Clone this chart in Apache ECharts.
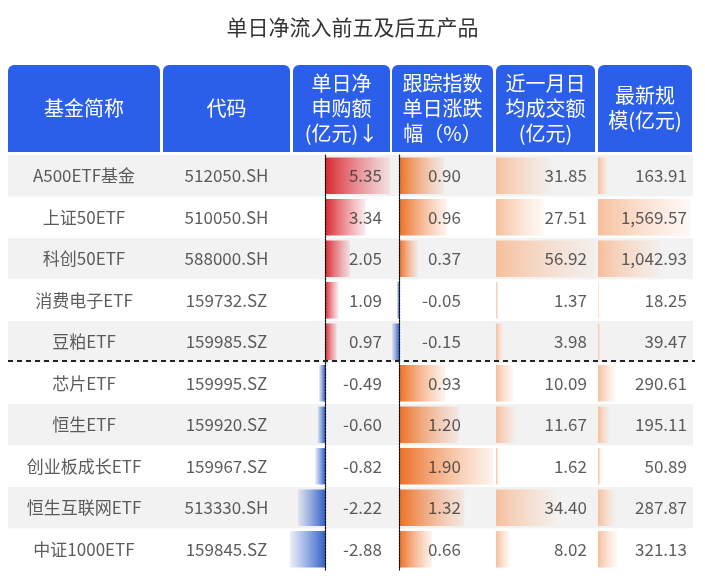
<!DOCTYPE html>
<html>
<head>
<meta charset="utf-8">
<script src="https://cdn.jsdelivr.net/npm/echarts@6/dist/echarts.min.js"></script>
<style>html,body{margin:0;padding:0;background:#fff}#main{width:705px;height:579px}</style>
</head>
<body>
<div id="main"></div>
<script>
const names = ['A500ETF基金', '上证50ETF', '科创50ETF', '消费电子ETF', '豆粕ETF', '芯片ETF', '恒生ETF', '创业板成长ETF', '恒生互联网ETF', '中证1000ETF']
const codes = ['512050.SH', '510050.SH', '588000.SH', '159732.SZ', '159985.SZ', '159995.SZ', '159920.SZ', '159967.SZ', '513330.SH', '159845.SZ']
const netFlow = [5.35, 3.34, 2.05, 1.09, 0.97, -0.49, -0.60, -0.82, -2.22, -2.88]
const idxChange = [0.90, 0.96, 0.37, -0.05, -0.15, 0.93, 1.20, 1.90, 1.32, 0.66]
const avgVolume = [31.85, 27.51, 56.92, 1.37, 3.98, 10.09, 11.67, 1.62, 34.40, 8.02]
const fundSize = [163.91, 1569.57, 1042.93, 18.25, 39.47, 290.61, 195.11, 50.89, 287.87, 321.13]
const headers = ['基金简称', '代码', '单日净\n申购额\n(亿元)↓', '跟踪指数\n单日涨跌\n幅（%）', '近一月日\n均成交额\n(亿元)', '最新规\n模(亿元)']

const chart = echarts.init(document.getElementById('main'))
const font = 'Noto Sans CJK SC'
const rows = names.map((_, i) => i)
const fmt = (v) => v.toLocaleString('en-US', { minimumFractionDigits: 2, maximumFractionDigits: 2 })

const grad = (c1, c2) => new echarts.graphic.LinearGradient(0, 0, 1, 0, [{ offset: 0, color: c1 }, { offset: 1, color: c2 }])
const redG = grad('#d9262e', 'rgba(230,90,100,0.12)')
const blueG = grad('rgba(80,120,210,0.12)', '#3461c8')
const orangeG = grad('#ec7026', 'rgba(245,160,110,0.12)')
const peachG = grad('#f6bf9c', 'rgba(250,215,195,0.15)')

// column boxes [left, right]
const cols = [[8, 160], [163, 290], [290, 390], [392, 493], [496, 595], [598, 692]]
const W = 705, TOP = 155, H = 415

const grids = cols.map(c => ({ left: c[0], width: c[1] - c[0], top: TOP, height: H }))
grids.push({ left: 8, width: 685, top: TOP, height: H })

const ranges = [[0, 1], [0, 1], [-2.88, 5.35], [-0.15, 1.90], [0, 57.5], [0, 1590], [0, 1]]
const xAxis = ranges.map((r, i) => ({ type: 'value', gridIndex: i, min: r[0], max: r[1], show: false }))
const yAxis = ranges.map((r, i) => ({
  type: 'category', gridIndex: i, data: rows, inverse: true,
  axisLabel: { show: false }, axisTick: { show: false },
  axisLine: { show: i === 2 || i === 3, onZero: true, lineStyle: { color: '#111', type: [2, 1], width: 1.2 } },
  splitArea: { show: i === 6, areaStyle: { color: ['#f2f2f2', '#ffffff'] } },
  z: i === 6 ? 0 : 5
}))

const textSeries = (gi, vals, x, pos, dist) => ({
  type: 'scatter', xAxisIndex: gi, yAxisIndex: gi, symbolSize: 0.1, z: 10,
  data: vals.map((v, i) => ({ value: [x, i], name: String(v) })),
  label: { show: true, position: pos, distance: dist, color: '#333', fontSize: 17, fontFamily: font, formatter: p => p.name },
  silent: true
})
const barSeries = (gi, vals, colorFn) => ({
  type: 'bar', xAxisIndex: gi, yAxisIndex: gi, barWidth: '88%', z: 3,
  data: vals.map(v => ({ value: v, itemStyle: { color: colorFn(v) } }))
})

const series = [
  { type: 'bar', xAxisIndex: 6, yAxisIndex: 6, data: [] },
  barSeries(2, netFlow, v => v >= 0 ? redG : blueG),
  barSeries(3, idxChange, v => v >= 0 ? orangeG : blueG),
  barSeries(4, avgVolume, () => peachG),
  barSeries(5, fundSize, () => peachG),
  textSeries(0, names, 0.5, 'inside', 0),
  textSeries(1, codes, 0.5, 'inside', 0),
  textSeries(2, netFlow.map(fmt), 5.35, 'left', 8),
  textSeries(3, idxChange.map(fmt), 1.90, 'left', 32),
  textSeries(4, avgVolume.map(fmt), 57.5, 'left', 8),
  textSeries(5, fundSize.map(fmt), 1590, 'left', 5)
]

const headerGraphics = []
cols.forEach((c, i) => {
  const l = i === 2 ? 293 : c[0], r = c[1]
  headerGraphics.push({ type: 'rect', shape: { x: l, y: 65, width: r - l - (i === 5 ? 0 : 0), height: 87, r: [6, 6, 0, 0] }, style: { fill: '#2b5fe9' } })
  headerGraphics.push({
    type: 'text', x: (l + r) / 2, y: 108,
    style: { text: headers[i], fill: '#fff', font: '20px "' + font + '"', align: 'center', verticalAlign: 'middle', lineHeight: 25 }
  })
})
headerGraphics.push({ type: 'line', shape: { x1: 8, y1: 361, x2: 695, y2: 361 }, style: { stroke: '#222', lineWidth: 2, lineDash: [5, 4] }, z: 20 })

chart.setOption({
  animation: false,
  title: { text: '单日净流入前五及后五产品', left: 'center', top: 12, textStyle: { fontSize: 21, fontWeight: 'normal', color: '#333', fontFamily: font } },
  grid: grids,
  xAxis,
  yAxis,
  series,
  graphic: headerGraphics
})
</script>
</body>
</html>
